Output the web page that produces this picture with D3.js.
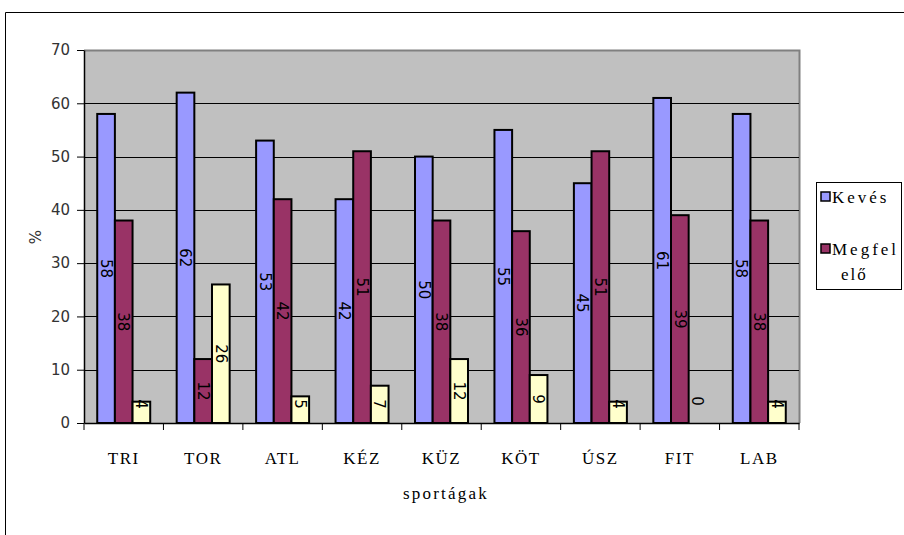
<!DOCTYPE html>
<html><head><meta charset="utf-8">
<script src="https://cdn.jsdelivr.net/npm/d3@7"></script>
<style>body{margin:0;background:#fff;}svg{display:block;}</style>
</head><body>
<script>
const categories = ["TRI","TOR","ATL","KÉZ","KÜZ","KÖT","ÚSZ","FIT","LAB"];
const seriesNames = ["Kevés","Megfelelő","Sok"];
const kevesValues = [58,62,53,42,50,55,45,61,58];
const megfeleloValues = [38,12,42,51,38,36,51,39,38];
const sokValues = [4,26,5,7,12,9,4,0,4];
const yTicks = [0,10,20,30,40,50,60,70];
const colors = ["#9999FF","#993366","#FFFFCC"];

(function(){
const W = 904, H = 535;
const SERIF = "'Liberation Serif', 'DejaVu Serif', 'Times New Roman', serif";
const SANS = "'DejaVu Sans', Verdana, sans-serif";
const svg = d3.select("body").append("svg").attr("width", W).attr("height", H);

// outer chart border
svg.append("path").attr("d", "M5.5,540 V12.5 H910").attr("fill","none").attr("stroke","#000").attr("stroke-width",1);

const pL = 84, pR = 799, pT = 50, pB = 423;
const x = d3.scaleBand().domain(categories).range([pL, pR]).paddingInner(0).paddingOuter(0);
const y = d3.scaleLinear().domain([0,70]).range([pB, pT]);
const groupW = x.bandwidth() * 0.667;
const xs = d3.scaleBand().domain(seriesNames).range([0, groupW]);

// plot background
svg.append("rect").attr("x", pL).attr("y", pT).attr("width", pR-pL).attr("height", pB-pT).attr("fill","#C0C0C0");
// plot border (top/right gray)
svg.append("path").attr("d", `M${pL},${pT+0.5} H${pR+0.5} V${pB}`).attr("fill","none").attr("stroke","#808080").attr("stroke-width",2);

// gridlines
svg.append("g").selectAll("line").data(yTicks.filter(t=>t>0 && t<70)).join("line")
  .attr("x1", pL).attr("x2", pR).attr("y1", d=>Math.round(y(d))+0.5).attr("y2", d=>Math.round(y(d))+0.5)
  .attr("stroke","#000").attr("stroke-width",1);

// y axis
const yAxis = svg.append("g").attr("transform", `translate(${pL},0)`)
  .call(d3.axisLeft(y).tickValues(yTicks).tickSize(7).tickPadding(7).tickSizeOuter(0));
yAxis.select(".domain").attr("stroke","#000").attr("stroke-width",1.5);
yAxis.selectAll(".tick line").attr("stroke","#000");
yAxis.selectAll("text").attr("font-family",SANS).attr("font-size",15).attr("fill","#333");

// x axis
const xAxis = svg.append("g").attr("transform", `translate(0,${pB})`)
  .call(d3.axisBottom(x).tickSize(0).tickPadding(29));
xAxis.select(".domain").attr("stroke","#000").attr("stroke-width",1.5);
xAxis.selectAll("text").attr("font-family",SERIF).attr("font-size",17).attr("letter-spacing",1.5).attr("fill","#000");
// category boundary ticks
svg.append("g").selectAll("line").data(categories.map((c,i)=>i).concat([categories.length])).join("line")
  .attr("x1", i => i < categories.length ? x(categories[i]) : pR).attr("x2", i => i < categories.length ? x(categories[i]) : pR)
  .attr("y1", pB).attr("y2", pB+7).attr("stroke","#000").attr("stroke-width",1);

// bars
const allSeries = [kevesValues, megfeleloValues, sokValues];
const barsData = [];
categories.forEach((c,i)=>{
  seriesNames.forEach((s,j)=>{ barsData.push({c, s, j, v: allSeries[j][i]}); });
});
const gx = c => x(c) + (x.bandwidth()-groupW)/2;
svg.append("g").selectAll("rect").data(barsData.filter(d=>d.v>0)).join("rect")
  .attr("x", d => gx(d.c) + xs(d.s))
  .attr("y", d => y(d.v))
  .attr("width", xs.bandwidth())
  .attr("height", d => y(0)-y(d.v))
  .attr("fill", d => colors[d.j])
  .attr("stroke","#000").attr("stroke-width",2);

// data labels rotated
svg.append("g").selectAll("text").data(barsData).join("text")
  .attr("transform", d => {
    const cx = gx(d.c) + xs(d.s) + xs.bandwidth()/2;
    const cy = d.v === 0 ? pB - 22 : Math.min((y(d.v)+y(0))/2, pB - 19);
    return `translate(${cx},${cy}) rotate(90)`;
  })
  .attr("text-anchor","middle").attr("dy","0.35em")
  .attr("font-family",SANS).attr("font-size",15).attr("fill","#000")
  .text(d => d.v);

// axis titles
svg.append("text").attr("transform","translate(41,237) rotate(-90)").attr("text-anchor","middle")
  .attr("font-family",SANS).attr("font-size",15).attr("fill","#333").text("%");
svg.append("text").attr("x",446).attr("y",499).attr("text-anchor","middle")
  .attr("font-family",SERIF).attr("font-size",17).attr("letter-spacing",2.2).attr("fill","#000").text("sportágak");

// legend
const lg = svg.append("g");
lg.append("rect").attr("x",816.5).attr("y",182.5).attr("width",85).attr("height",107).attr("fill","#fff").attr("stroke","#000").attr("stroke-width",1);
lg.append("rect").attr("x",821).attr("y",192).attr("width",9).attr("height",9).attr("fill",colors[0]).attr("stroke","#000").attr("stroke-width",1.5);
lg.append("text").attr("x",832).attr("y",203).attr("font-family",SERIF).attr("font-size",17).attr("letter-spacing",3).attr("fill","#000").text(seriesNames[0]);
lg.append("rect").attr("x",821).attr("y",244).attr("width",9).attr("height",9).attr("fill",colors[1]).attr("stroke","#000").attr("stroke-width",1.5);
lg.append("text").attr("x",832).attr("y",255).attr("font-family",SERIF).attr("font-size",17).attr("letter-spacing",3).attr("fill","#000").text(seriesNames[1].slice(0,6));
lg.append("text").attr("x",841).attr("y",280).attr("font-family",SERIF).attr("font-size",17).attr("letter-spacing",2).attr("fill","#000").text(seriesNames[1].slice(6));
})();
</script>
</body></html>
